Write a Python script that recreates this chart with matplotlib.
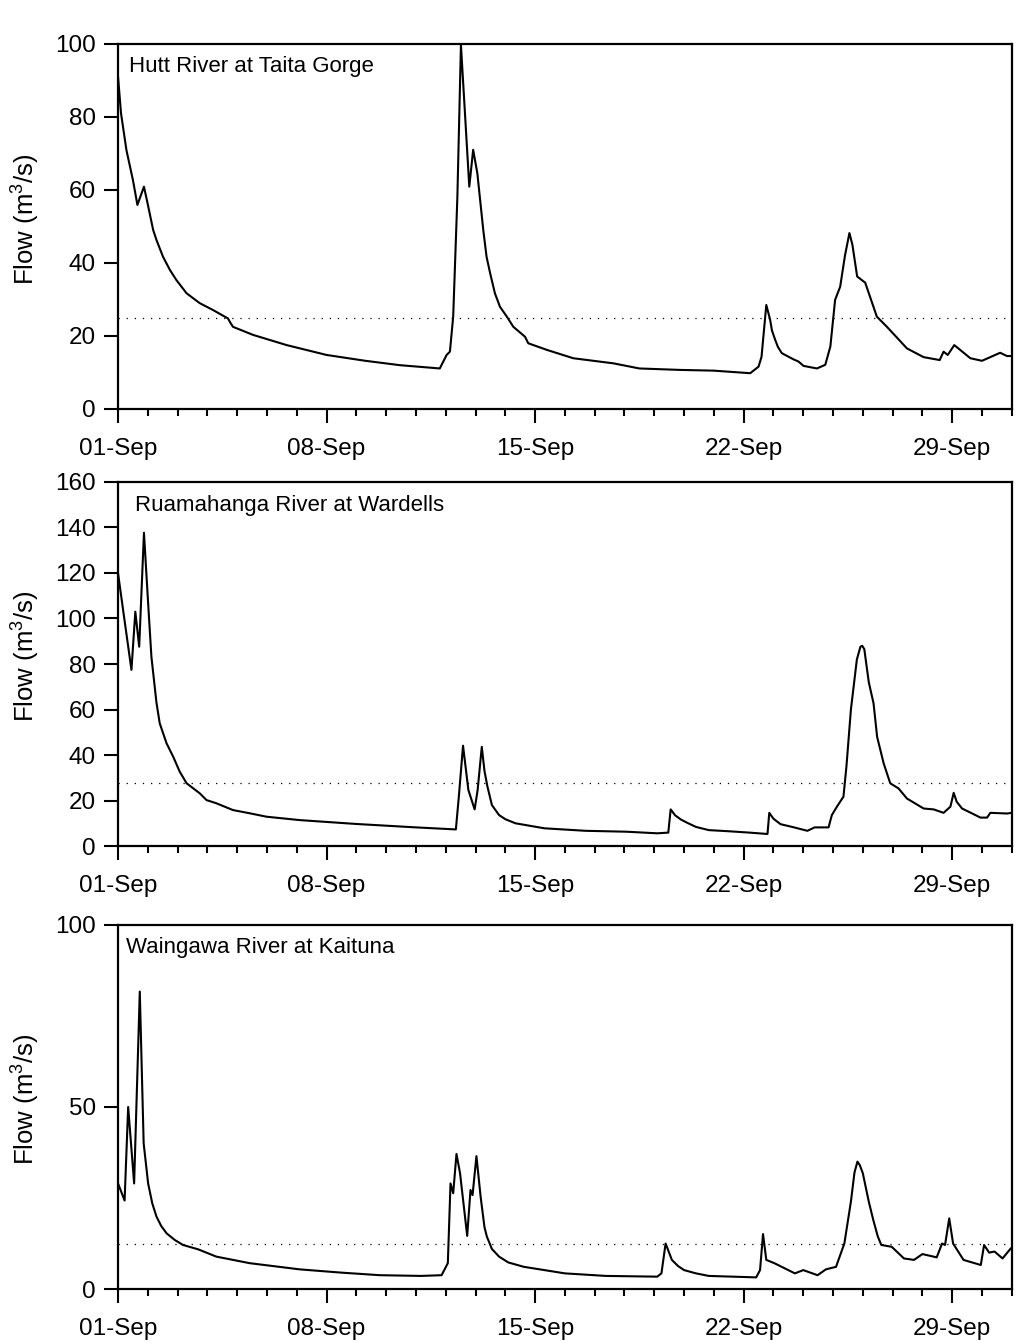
import numpy as np
import matplotlib
matplotlib.use('Agg')
import matplotlib.pyplot as plt

plt.rcParams['font.family'] = ['Liberation Sans', 'DejaVu Sans']
plt.rcParams['mathtext.fontset'] = 'custom'
plt.rcParams['mathtext.rm'] = 'Liberation Sans'
plt.rcParams['mathtext.it'] = 'Liberation Sans:italic'

'Data (days since 01-Sep, flow m3/s)'
hutt_day = [0, 0.1, 0.28, 0.5, 0.65, 0.87, 1.0, 1.18, 1.29, 1.51, 1.74, 1.96, 2.3, 2.74, 3.19,
            3.69, 3.78, 3.86, 4.53, 5.66, 7.0, 8.3, 9.46, 10.8, 11.03, 11.14, 11.25, 11.39,
            11.51, 11.79, 11.92, 12.06, 12.26, 12.37, 12.49, 12.65, 12.82, 13.05, 13.27, 13.66,
            13.77, 14.39, 15.28, 16.63, 17.5, 18.87, 20.0, 21.22, 21.5, 21.6, 21.76, 21.89,
            21.95, 22.06, 22.15, 22.28, 22.67, 22.84, 23.01, 23.46, 23.74, 23.91, 24.07, 24.24,
            24.4, 24.55, 24.65, 24.81, 25.08, 25.47, 25.81, 26.48, 27.04, 27.58, 27.71, 27.85,
            28.07, 28.61, 29.0, 29.61, 29.84, 30.0]
hutt_flow = [91, 81, 71, 62.7, 55.9, 60.9, 56, 49, 46.3, 41.7, 38.1, 35.3, 31.7, 29, 27.1,
             24.8, 23.5, 22.5, 20.3, 17.5, 14.8, 13.2, 12, 11.1, 14.8, 15.7, 25.3, 58,
             99.7, 60.9, 71, 64.6, 49, 41.7, 37.2, 31.7, 28, 25.3, 22.5, 19.8,
             18, 16.2, 13.9, 12.5, 11.1, 10.7, 10.5, 9.8, 11.6, 14.3, 28.5, 24.4,
             21.5, 18.9, 17, 15.3, 13.6, 13, 11.8, 11.1, 12.1, 17.1, 29.9, 33.5,
             42, 48.2, 45, 36.3, 34.6, 25.3, 22.5, 16.6, 14.2, 13.4, 15.7, 14.8,
             17.5, 13.9, 13.2, 15.4, 14.5, 14.5]

ruam_day = [0, 0.17, 0.45, 0.58, 0.71, 0.87, 1.01, 1.12, 1.29, 1.4, 1.63, 1.85, 2.07, 2.3,
            2.74, 2.97, 3.3, 3.86, 4.42, 4.98, 6.1, 8.0, 10.0, 11.34, 11.44, 11.58, 11.76,
            11.97, 12.07, 12.21, 12.3, 12.4, 12.55, 12.79, 13.0, 13.34, 14.31, 15.69, 17.07,
            18.1, 18.47, 18.55, 18.7, 18.9, 19.14, 19.4, 19.83, 20.5, 21.2, 21.8, 21.86,
            22.0, 22.24, 22.6, 23.14, 23.38, 23.85, 23.96, 24.13, 24.35, 24.45, 24.6, 24.8,
            24.92, 24.98, 25.05, 25.2, 25.36, 25.48, 25.7, 25.92, 26.2, 26.48, 27.04, 27.38,
            27.71, 27.94, 28.05, 28.15, 28.33, 28.95, 29.17, 29.28, 29.84, 30.0]
ruam_flow = [119.9, 103.7, 77.4, 103, 87.6, 137.7, 106.7, 83.2, 63, 53.9, 45.1, 39.3, 32.7, 27.6,
             23.2, 20.2, 18.8, 15.8, 14.4, 12.9, 11.4, 9.7, 8.2, 7.3, 21.8, 44.1, 24.6,
             16.1, 24.6, 43.6, 33, 26.1, 18, 13.6, 11.8, 10.0, 7.8, 6.7, 6.3,
             5.6, 5.9, 16.1, 13.5, 11.6, 10.0, 8.4, 7.0, 6.5, 5.9, 5.3, 14.6,
             12, 9.6, 8.5, 6.7, 8.2, 8.2, 13.6, 17.3, 21.7, 35, 60, 82,
             87.6, 88, 86.5, 72, 62.7, 48, 36.3, 27.6, 25.3, 20.9, 16.5, 16.1,
             14.6, 17.3, 23.4, 19.5, 16.5, 12.5, 12.5, 14.6, 14.3, 14.6]

wain_day = [0, 0.22, 0.34, 0.54, 0.73, 0.86, 1.01, 1.15, 1.29, 1.45, 1.63, 1.9, 2.18, 2.69,
            3.3, 4.42, 6.1, 7.5, 8.79, 10.17, 10.86, 11.07, 11.16, 11.25, 11.36, 11.48, 11.72,
            11.83, 11.9, 12.03, 12.17, 12.3, 12.38, 12.55, 12.79, 13.1, 13.62, 15.0, 16.38,
            18.1, 18.24, 18.38, 18.45, 18.59, 18.8, 19.0, 19.4, 19.83, 21.42, 21.55, 21.65,
            21.76, 22.03, 22.72, 23.0, 23.48, 23.76, 24.1, 24.38, 24.6, 24.72, 24.82, 24.9,
            25.0, 25.2, 25.35, 25.5, 25.62, 25.97, 26.38, 26.72, 27.0, 27.48, 27.66, 27.76,
            27.9, 28.03, 28.38, 28.96, 29.07, 29.24, 29.42, 29.69, 29.97, 30.0]
wain_flow = [29, 24.3, 50, 29, 81.7, 40, 29, 23.5, 19.9, 17.3, 15.3, 13.5, 12.1, 10.9,
             8.9, 7.1, 5.4, 4.5, 3.8, 3.6, 3.8, 7.1, 29, 26.3, 37.1, 31.8, 14.6,
             27.2, 25.8, 36.5, 25.4, 17, 14.4, 11, 8.9, 7.3, 6.1, 4.3, 3.6,
             3.4, 4.3, 12.5, 11, 8.0, 6.3, 5.2, 4.3, 3.6, 3.2, 5.2, 15.1,
             8.0, 7.1, 4.3, 5.2, 3.8, 5.4, 6.1, 12.5, 24, 32, 35.0, 34,
             31.8, 24, 19, 14.5, 12.1, 11.6, 8.4, 8.0, 9.6, 8.7, 12.5, 12.1,
             19.4, 12.5, 8.0, 6.6, 12.1, 10.0, 10.3, 8.4, 11.2, 10.9]

site_names = ['Hutt River at Taita Gorge', 'Ruamahanga River at Wardells', 'Waingawa River at Kaituna']
ref_flow = [25, 27.7, 12.4]          # dotted reference line
ymax = [100, 160, 100]
ystep = [20, 20, 50]
tick_days = [0, 7, 14, 21, 28]
tick_labels = ['01-Sep', '08-Sep', '15-Sep', '22-Sep', '29-Sep']

days_all = [hutt_day, ruam_day, wain_day]
flow_all = [hutt_flow, ruam_flow, wain_flow]

# axes boxes in figure fraction (left, bottom, width, height)
boxes = [[0.1155, 0.6957, 0.8745, 0.2716],
         [0.1155, 0.3705, 0.8745, 0.2709],
         [0.1155, 0.0409, 0.8745, 0.2709]]
text_pos = [(0.012, 0.967), (0.019, 0.963), (0.009, 0.968)]

fig = plt.figure(figsize=(10.22, 13.44), dpi=100)

for i in range(3):
    ax = fig.add_axes(boxes[i])
    ax.plot(days_all[i], flow_all[i], color='black', lw=1.5)
    ax.axhline(ref_flow[i], color='black', lw=0.9, ls=(0, (1, 5.5)))
    ax.set_xlim(0, 30)
    ax.set_ylim(0, ymax[i])
    ax.set_yticks(np.arange(0, ymax[i] + 1, ystep[i]))
    ax.set_xticks(tick_days)
    ax.set_xticklabels(tick_labels)
    ax.set_xticks(np.arange(0, 31, 1), minor=True)
    ax.tick_params(axis='x', which='major', length=10, width=1.5, direction='out', pad=11, labelsize=17.5)
    ax.tick_params(axis='x', which='minor', length=5, width=1.5, direction='out')
    ax.tick_params(axis='y', which='major', length=10, width=1.5, direction='out', pad=6, labelsize=17.5)
    for s in ax.spines.values():
        s.set_linewidth(1.6)
    ax.set_ylabel('Flow (m$^3$/s)', fontsize=18.5)
    ax.yaxis.set_label_coords(-0.085, 0.52)
    ax.text(text_pos[i][0], text_pos[i][1], site_names[i], transform=ax.transAxes,
            fontsize=16, va='top', ha='left')

plt.savefig('out.png', dpi=100)
